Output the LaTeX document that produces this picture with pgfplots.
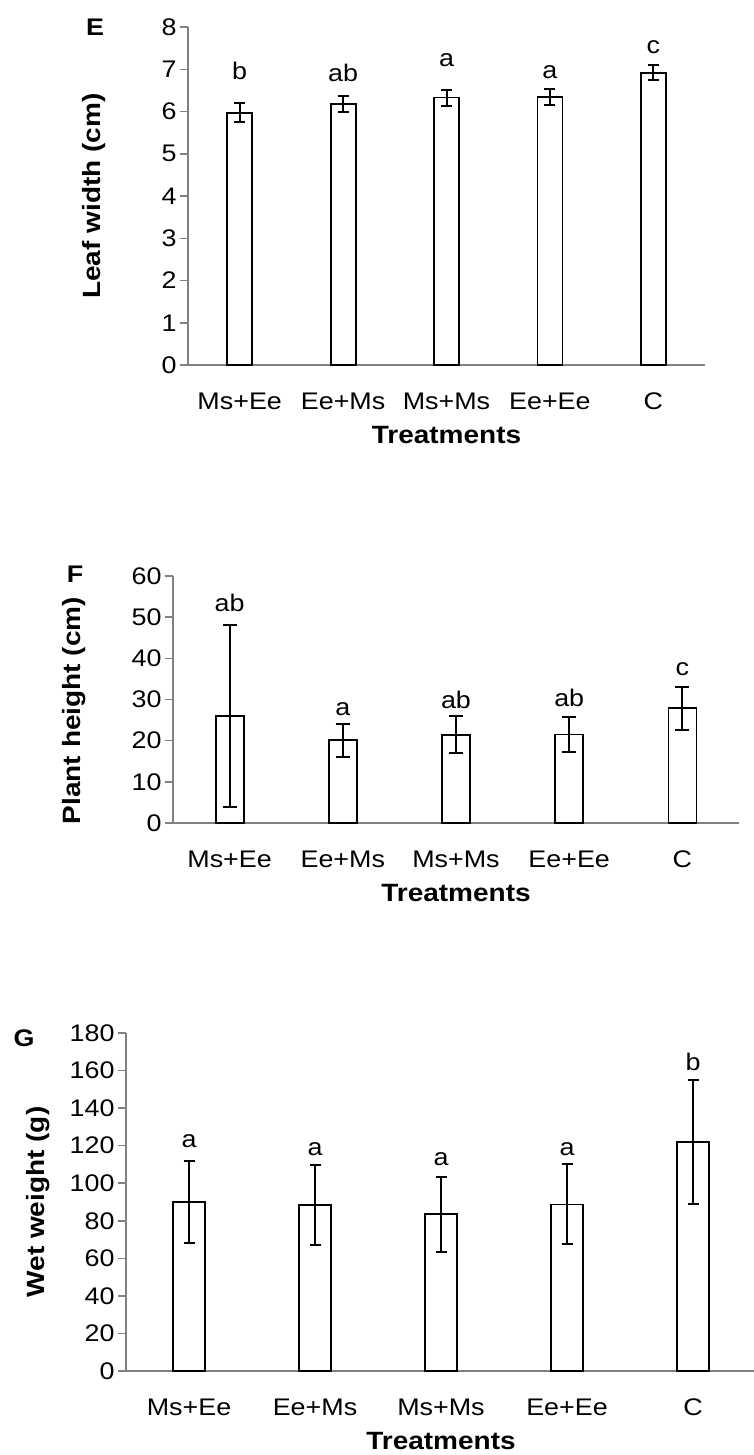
\documentclass[border=0pt]{standalone}
\usepackage{fontspec}
\setmainfont{Liberation Sans}[FakeStretch=1.12]
\usepackage{pgfplots}
\usepackage{pgfplotstable}
\pgfplotsset{compat=1.18}

% Means and standard deviations per treatment
\pgfplotstableread{
x  y     e
0  5.97  0.22
1  6.18  0.19
2  6.33  0.19
3  6.35  0.19
4  6.92  0.17
}\leafwidth
\pgfplotstableread{
x  y     e
0  25.9  22.1
1  20.1  4.0
2  21.4  4.5
3  21.5  4.2
4  27.9  5.2
}\plantheight
\pgfplotstableread{
x  y      e
0  90.0   22.0
1  88.3   21.3
2  83.5   20.0
3  88.7   21.3
4  122.0  33.2
}\wetweight

\tikzset{sig/.style={anchor=base, font=\fontsize{24}{28}\selectfont}}

\pgfplotsset{
  panel/.style={
    scale only axis,
    anchor=south west,
    xmin=-0.5, xmax=4.5, ymin=0,
    axis x line=bottom, axis y line=left,
    axis line style={-, draw=gray, line width=1.5pt},
    x axis line style={shorten <=-8pt},
    xtick={0,1,2,3,4},
    xticklabels={Ms+Ee,Ee+Ms,Ms+Ms,Ee+Ee,C},
    x tick style={draw=none},
    y tick style={draw=gray, line width=1.5pt},
    tick align=outside,
    major tick length=8pt,
    ticklabel style={font=\fontsize{24}{28}\selectfont},
    /pgf/number format/assume math mode=true,
    xticklabel style={yshift=-16pt},
    xlabel={Treatments},
    xlabel style={font=\bfseries\fontsize{25}{30}\selectfont,
      at={(axis description cs:0.5,0)}, anchor=base, yshift=-78pt},
    ylabel style={font=\bfseries\fontsize{25}{30}\selectfont, anchor=base},
    ybar,
    clip=false,
  },
}

\begin{document}
\begin{tikzpicture}
\useasboundingbox (0,0) rectangle (753pt,-1455pt);

% (E) leaf width
\begin{axis}[panel, at={(188pt,-365pt)}, width=517pt, height=338pt,
  ymax=8, ytick={0,1,...,8}, bar width=25pt,
  ylabel={Leaf width (cm)},
  ylabel style={at={(axis description cs:-0.170,0.5)}}]
\addplot[draw=black, fill=white, line width=1.8pt,
  error bars/.cd, y dir=both, y explicit,
  error bar style={line width=2pt, black},
  error mark options={rotate=90, mark size=5.5pt, line width=2pt, black}]
  table[x=x, y=y, y error=e] {\leafwidth};
\node[sig] at (axis cs:0,6.75) {b};
\node[sig] at (axis cs:1,6.72) {ab};
\node[sig] at (axis cs:2,7.06) {a};
\node[sig] at (axis cs:3,6.77) {a};
\node[sig] at (axis cs:4,7.38) {c};
\end{axis}
\node[font=\bfseries\fontsize{24}{28}\selectfont] at (95pt,-27pt) {E};

% (F) plant height
\begin{axis}[panel, at={(173pt,-823pt)}, width=566pt, height=247pt,
  ymax=60, ytick={0,10,...,60}, bar width=28pt,
  ylabel={Plant height (cm)},
  ylabel style={at={(axis description cs:-0.164,0.455)}}]
\addplot[draw=black, fill=white, line width=1.8pt,
  error bars/.cd, y dir=both, y explicit,
  error bar style={line width=2pt, black},
  error mark options={rotate=90, mark size=7pt, line width=2pt, black}]
  table[x=x, y=y, y error=e] {\plantheight};
\node[sig] at (axis cs:0,51.5) {ab};
\node[sig] at (axis cs:1,26.2) {a};
\node[sig] at (axis cs:2,27.8) {ab};
\node[sig] at (axis cs:3,28.4) {ab};
\node[sig] at (axis cs:4,35.9) {c};
\end{axis}
\node[font=\bfseries\fontsize{24}{28}\selectfont] at (75pt,-574pt) {F};

% (G) wet weight
\begin{axis}[panel, at={(126pt,-1371pt)}, width=630pt, height=338pt,
  ymax=180, ytick={0,20,...,180}, bar width=32pt,
  ylabel={Wet weight (g)},
  ylabel style={at={(axis description cs:-0.129,0.5)}}]
\addplot[draw=black, fill=white, line width=1.8pt,
  error bars/.cd, y dir=both, y explicit,
  error bar style={line width=2pt, black},
  error mark options={rotate=90, mark size=5.5pt, line width=2pt, black}]
  table[x=x, y=y, y error=e] {\wetweight};
\node[sig] at (axis cs:0,118.9) {a};
\node[sig] at (axis cs:1,115.0) {a};
\node[sig] at (axis cs:2,109.7) {a};
\node[sig] at (axis cs:3,115.0) {a};
\node[sig] at (axis cs:4,160.2) {b};
\end{axis}
\node[font=\bfseries\fontsize{24}{28}\selectfont] at (24pt,-1038pt) {G};
\end{tikzpicture}
\end{document}
